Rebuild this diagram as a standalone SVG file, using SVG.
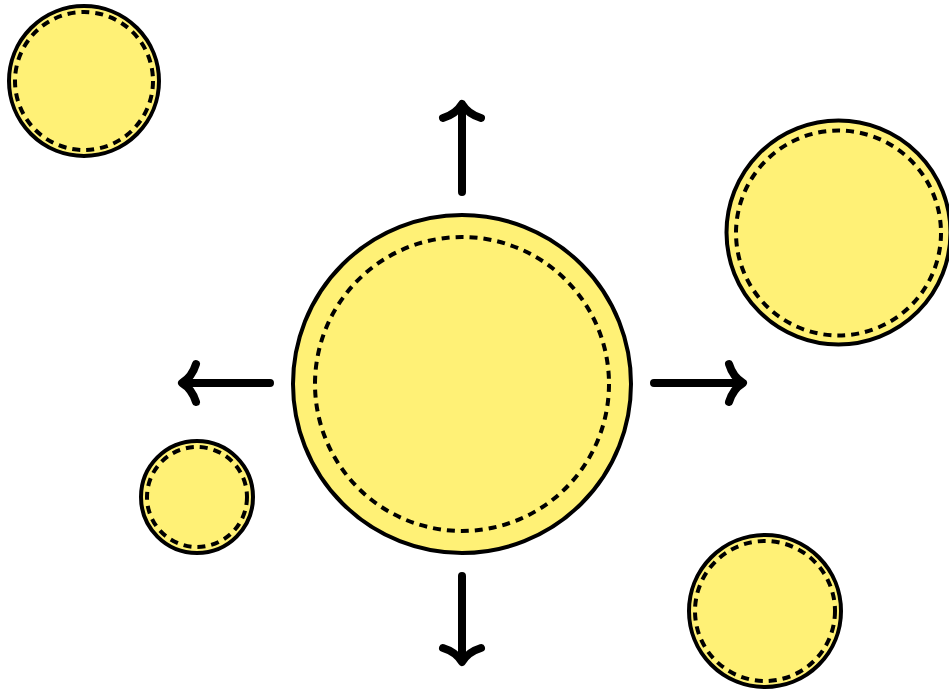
<svg xmlns="http://www.w3.org/2000/svg" width="949" height="689" viewBox="0 0 949 689">
<style>
.outer{fill:#fff176;stroke:#000;stroke-width:4}
.inner{fill:none;stroke:#000;stroke-width:4;stroke-dasharray:8 6}
.arr{fill:none;stroke:#000;stroke-width:8;stroke-linecap:round;stroke-linejoin:round}
</style>
<rect width="949" height="689" fill="#fff"/>
<g id="center"><circle class="outer" cx="462" cy="384" r="169"/><circle class="inner" cx="462" cy="384" r="147"/></g>
<g id="topleft"><circle class="outer" cx="84" cy="81" r="75"/><circle class="inner" cx="84" cy="81" r="69"/></g>
<g id="right"><circle class="outer" cx="838.5" cy="232.5" r="112"/><circle class="inner" cx="838.5" cy="233" r="102.5"/></g>
<g id="smallleft"><circle class="outer" cx="197" cy="497" r="56"/><circle class="inner" cx="197" cy="497" r="50"/></g>
<g id="bottomright"><circle class="outer" cx="765" cy="611" r="76"/><circle class="inner" cx="765" cy="611" r="70"/></g>
<g id="connectors">
<path class="arr" d="M462 192V106M443 118Q456 114 462 104Q468 114 481 118"/>
<path class="arr" d="M270 383H184M196 364Q192 377 182 383Q192 389 196 402"/>
<path class="arr" d="M654 383H740M729 364Q733 377 743 383Q733 389 729 402"/>
<path class="arr" d="M462 576V660M443 648Q456 652 462 662Q468 652 481 648"/>
</g>
</svg>
